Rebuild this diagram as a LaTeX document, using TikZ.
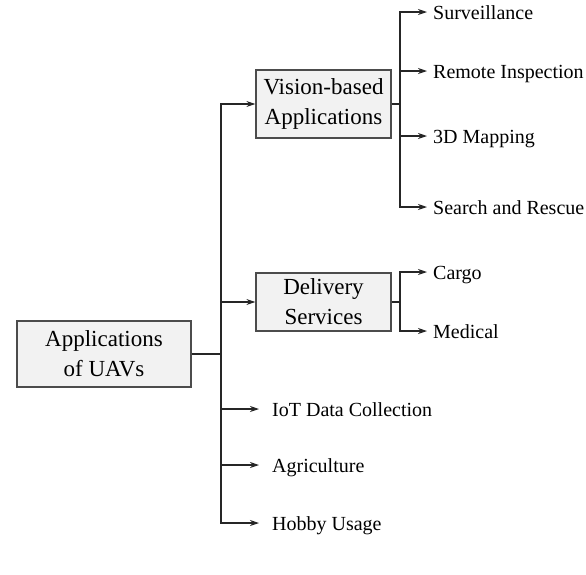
\documentclass[tikz,border=0pt]{standalone}
\usepackage{fontspec}
\setmainfont{Liberation Serif}
\usetikzlibrary{arrows.meta}
\begin{document}
\begin{tikzpicture}[x=1pt,y=-1pt,
  box/.style={draw=black!70,line width=1.3pt,fill=black!5,align=center,
    font=\fontsize{23}{30}\selectfont,inner sep=0pt},
  leaf/.style={anchor=west,inner sep=0pt,font=\fontsize{20}{24}\selectfont,
    text height=14.8pt,text depth=0pt},
  conn/.style={draw=black!85,line width=1.1pt},
  arr/.style={conn,-{Stealth[length=9pt,width=6pt]}}]
\useasboundingbox (0,0) rectangle (586,574);
\node[box,minimum width=174pt,minimum height=66pt] (root) at (104,354) {Applications\\of UAVs};
\node[box,minimum width=135pt,minimum height=68pt] (vis) at (323.5,104) {Vision-based\\Applications};
\node[box,minimum width=135pt,minimum height=58pt] (del) at (323.5,302) {Delivery\\Services};
% leaves
\node[leaf] (surv) at (433,12) {Surveillance};
\node[leaf] (rem) at (433,71) {Remote Inspection};
\node[leaf] (map) at (433,136) {3D Mapping};
\node[leaf] (sar) at (433,207) {Search and Rescue};
\node[leaf] (cargo) at (433,272) {Cargo};
\node[leaf] (med) at (433,331) {Medical};
\node[leaf] (iot) at (272,409) {IoT Data Collection};
\node[leaf] (agr) at (272,465) {Agriculture};
\node[leaf] (hob) at (272,523) {Hobby Usage};
% trunk
\coordinate (j) at (221,354);
\draw[conn] (root.east) -- (j);
\draw[arr] (j) |- (vis.west);
\draw[arr] (j) |- (del.west);
\draw[arr] (j) |- ([xshift=-13pt]iot.west);
\draw[arr] (j) |- ([xshift=-13pt]agr.west);
\draw[arr] (j) |- ([xshift=-13pt]hob.west);
% vision subtree
\coordinate (vj) at (400,104);
\draw[conn] (vis.east) -- (vj);
\foreach \n in {surv,rem,map,sar}{\draw[arr] (vj) |- ([xshift=-6pt]\n.west);}
% delivery subtree
\coordinate (dj) at (400,302);
\draw[conn] (del.east) -- (dj);
\foreach \n in {cargo,med}{\draw[arr] (dj) |- ([xshift=-6pt]\n.west);}
\end{tikzpicture}
\end{document}
